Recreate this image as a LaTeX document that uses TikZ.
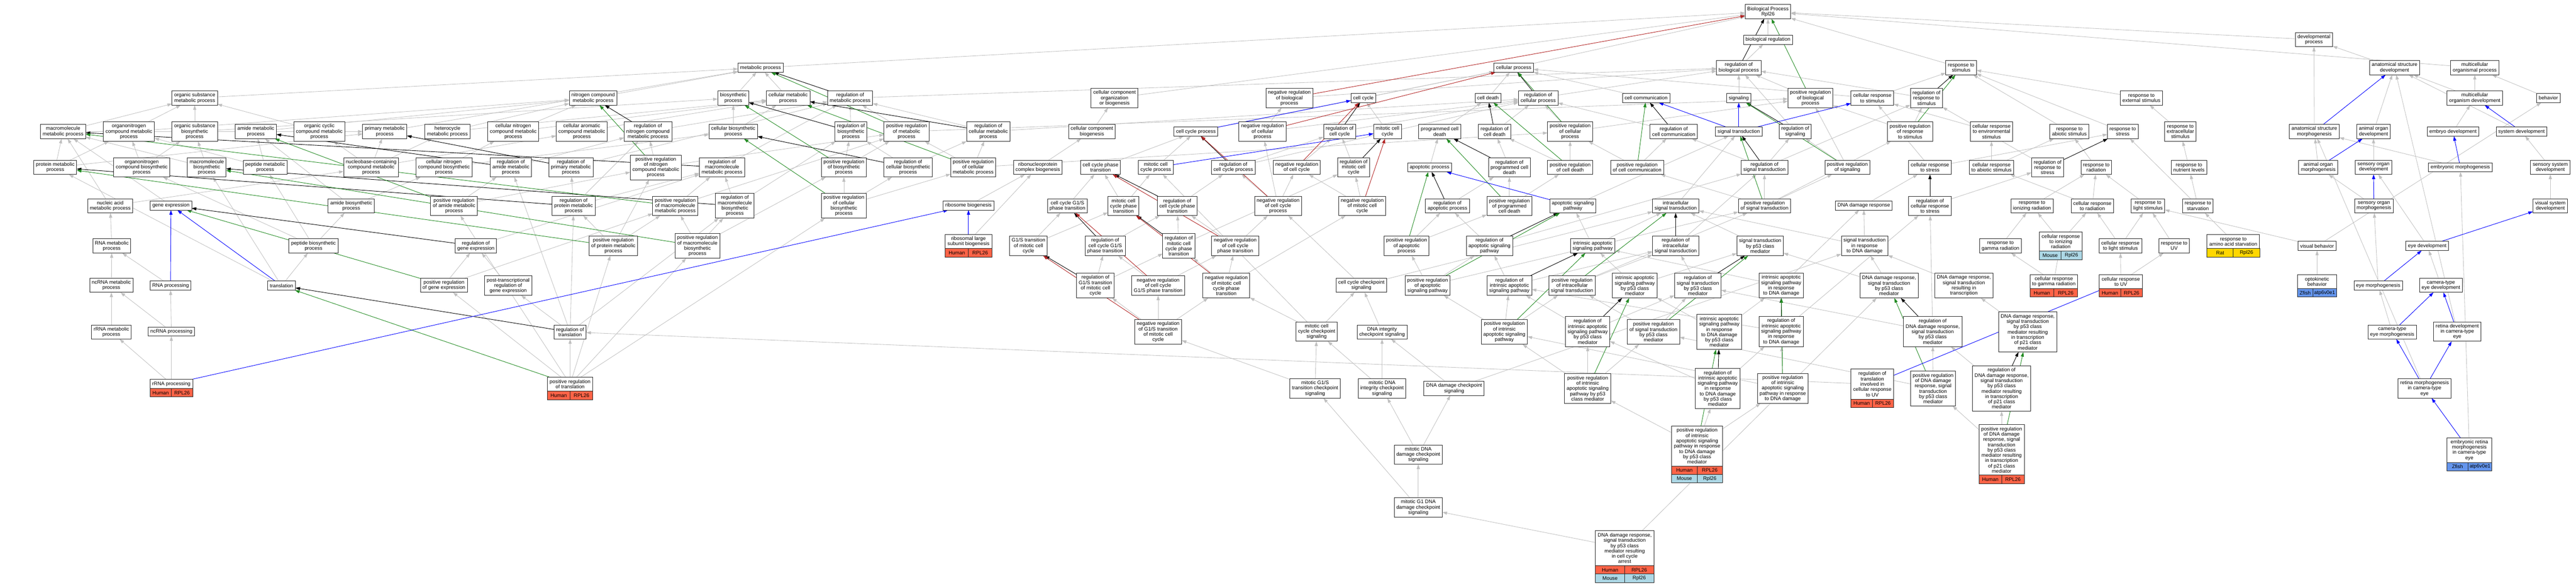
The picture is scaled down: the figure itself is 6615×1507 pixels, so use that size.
\documentclass[tikz,border=0pt]{standalone}
\usepackage{fontspec}
\setmainfont{Liberation Sans}
\usetikzlibrary{arrows.meta}
\pgfdeclarelayer{back}
\pgfdeclarelayer{bg}
\pgfsetlayers{back,bg,main}
\definecolor{edgegray}{RGB}{192,192,192}
\definecolor{egreen}{RGB}{34,139,34}
\definecolor{ered}{RGB}{178,34,34}
\definecolor{eblue}{RGB}{0,0,255}
\definecolor{hum}{RGB}{255,99,71}
\definecolor{mou}{RGB}{173,216,230}
\definecolor{rat}{RGB}{255,215,0}
\definecolor{zf}{RGB}{100,149,237}
\newcommand\gofont{\fontsize{13}{13.6}\selectfont}
\tikzset{
 go/.style={draw=black!85, line width=1.2pt, fill=white, font=\gofont, align=center, inner xsep=5.5pt, inner ysep=0pt, outer sep=0pt},
 L1/.style={minimum height=23.5pt}, L2/.style={minimum height=36.5pt}, L3/.style={minimum height=50pt},
 L4/.style={minimum height=63.5pt}, L5/.style={minimum height=77pt}, L6/.style={minimum height=90pt},
 L7/.style={minimum height=103pt}, L8/.style={minimum height=117pt}, L9/.style={minimum height=130pt},
 gcell/.style={draw=black!85, line width=1.1pt, font=\gofont, inner sep=0pt, outer sep=0pt, minimum height=21.5pt},
 eGray/.style={draw=edgegray, line width=1.1pt, -{Triangle[length=12pt,width=8pt]}},
 eBlack/.style={draw=black, line width=1.2pt, -{Triangle[length=12pt,width=8pt]}},
 eGreen/.style={draw=egreen, line width=1.2pt, -{Triangle[length=12pt,width=8pt]}},
 eRed/.style={draw=ered, line width=1.2pt, -{Triangle[length=12pt,width=8pt]}},
 eBlue/.style={draw=eblue, line width=1.2pt, -{Triangle[length=12pt,width=8pt]}},
}
\newcommand\gannot[6]{%
 \node[gcell,fill=#2,minimum width=#5,anchor=north west] (#1-a) at (#1.south west) {#3};
 \node[gcell,fill=#2,minimum width=#6,anchor=north east] (#1-b) at (#1.south east) {#4};}
\newcommand\gannotb[6]{%
 \node[gcell,fill=#2,minimum width=#5,anchor=north west] (#1-c) at (#1-a.south west) {#3};
 \node[gcell,fill=#2,minimum width=#6,anchor=north east] (#1-d) at (#1-b.south east) {#4};}
\begin{document}
\begin{tikzpicture}[x=1pt,y=1pt]
\begin{pgfonlayer}{back}
\fill[white] (0,0) rectangle (6615,-1507);
\end{pgfonlayer}
\useasboundingbox (0,0) rectangle (6615,-1507);
% ---------- metabolism (left)
\node[go,L2] (orgsubmet) at (500,-252) {organic substance\\metabolic process};
\node[go,L2] (macmet) at (162,-338) {macromolecule\\metabolic process};
\node[go,L3] (orgnitmet) at (331,-338) {organonitrogen\\compound metabolic\\process};
\node[go,L3] (orgsubbio) at (500,-338) {organic substance\\biosynthetic\\process};
\node[go,L2] (amidemet) at (657,-338) {amide metabolic\\process};
\node[go,L3] (orgcyc) at (820,-338) {organic cyclic\\compound metabolic\\process};
\node[go,L2] (primmet) at (988,-338) {primary metabolic\\process};
\node[go,L2] (protmet) at (142,-430) {protein metabolic\\process};
\node[go,L3] (orgnitbio) at (364,-430) {organonitrogen\\compound biosynthetic\\process};
\node[go,L3] (macbio) at (531,-430) {macromolecule\\biosynthetic\\process};
\node[go,L2] (peptmet) at (681,-430) {peptide metabolic\\process};
\node[go,L3] (nucmet) at (953,-430) {nucleobase-containing\\compound metabolic\\process};
\node[go,L3] (cellnitbio) at (1140,-430) {cellular nitrogen\\compound biosynthetic\\process};
\node[go,L2] (nucacid) at (283,-529) {nucleic acid\\metabolic process};
\node[go,L1] (geneexp) at (439,-528) {gene expression};
\node[go,L2] (amidebio) at (902,-529) {amide biosynthetic\\process};
\node[go,L2] (rnamet) at (287,-632) {RNA metabolic\\process};
\node[go,L2] (peptbio) at (805,-632) {peptide biosynthetic\\process};
\node[go,L2] (ncrnamet) at (286,-733) {ncRNA metabolic\\process};
\node[go,L1] (rnaproc) at (438,-734) {RNA processing};
\node[go,L1] (translation) at (723,-734) {translation};
\node[go,L2] (posreggeneexp) at (1140,-733) {positive regulation\\of gene expression};
\node[go,L2] (rrnamet) at (286,-853) {rRNA metabolic\\process};
\node[go,L1] (ncrnaproc) at (440,-852) {ncRNA processing};
\node[go,L1,minimum width=110pt] (rrnaproc) at (440,-986.5) {rRNA processing};
\gannot{rrnaproc}{hum}{Human}{RPL26}{55pt}{55pt}
\node[go,L1] (metproc) at (1953,-174) {metabolic process};
\node[go,L2] (nitmet) at (1523,-252) {nitrogen compound\\metabolic process};
\node[go,L2] (biosyn) at (1883,-252) {biosynthetic\\process};
\node[go,L2] (cellmet) at (2024,-252) {cellular metabolic\\process};
\node[go,L2] (regmet) at (2183,-252) {regulation of\\metabolic process};
\node[go,L2] (heterocycle) at (1149,-338) {heterocycle\\metabolic process};
\node[go,L3] (cellnitmet) at (1318,-338) {cellular nitrogen\\compound metabolic\\process};
\node[go,L3] (cellarom) at (1494,-338) {cellular aromatic\\compound metabolic\\process};
\node[go,L3] (regnitmet) at (1664,-338) {regulation of\\nitrogen compound\\metabolic process};
\node[go,L2] (cellbio) at (1883,-338) {cellular biosynthetic\\process};
\node[go,L3] (regbio) at (2185,-338) {regulation of\\biosynthetic\\process};
\node[go,L3] (regamide) at (1312,-430) {regulation of\\amide metabolic\\process};
\node[go,L3] (regprim) at (1466,-430) {regulation of\\primary metabolic\\process};
\node[go,L4] (posregnit) at (1684,-430) {positive regulation\\of nitrogen\\compound metabolic\\process};
\node[go,L3] (regmacmet) at (1854,-430) {regulation of\\macromolecule\\metabolic process};
\node[go,L3] (posregbio) at (2167,-430) {positive regulation\\of biosynthetic\\process};
\node[go,L3] (posregamide) at (1166,-529) {positive regulation\\of amide metabolic\\process};
\node[go,L3] (regprot) at (1473,-529) {regulation of\\protein metabolic\\process};
\node[go,L3] (posregmacmet) at (1734,-529) {positive regulation\\of macromolecule\\metabolic process};
\node[go,L4] (regmacbio) at (1887,-529) {regulation of\\macromolecule\\biosynthetic\\process};
\node[go,L4] (posregcellbio) at (2167,-529) {positive regulation\\of cellular\\biosynthetic\\process};
\node[go,L2] (reggeneexp) at (1222,-632) {regulation of\\gene expression};
\node[go,L3] (posregprot) at (1575,-632) {positive regulation\\of protein metabolic\\process};
\node[go,L4] (posregmacbio) at (1791,-632) {positive regulation\\of macromolecule\\biosynthetic\\process};
\node[go,L3] (posttrans) at (1305,-734) {post-transcriptional\\regulation of\\gene expression};
\node[go,L2] (regtransl) at (1464,-853) {regulation of\\translation};
\node[go,L2,minimum width=117pt] (posregtransl) at (1464,-987) {positive regulation\\of translation};
\gannot{posregtransl}{hum}{Human}{RPL26}{58.5pt}{58.5pt}
\node[go,L3] (posregmet) at (2328,-338) {positive regulation\\of metabolic\\process};
\node[go,L3] (regcellmet) at (2538,-338) {regulation of\\cellular metabolic\\process};
\node[go,L3] (regcellbio) at (2332,-430) {regulation of\\cellular biosynthetic\\process};
\node[go,L3] (posregcellmet) at (2499,-430) {positive regulation\\of cellular\\metabolic process};
% ---------- cell cycle
\node[go,L3] (ccorg) at (2862,-252) {cellular component\\organization\\or biogenesis};
\node[go,L2] (ccbio) at (2804,-338) {cellular component\\biogenesis};
\node[go,L1] (ccproc) at (3071,-338) {cell cycle process};
\node[go,L3] (negregbio) at (3311,-252) {negative regulation\\of biological\\process};
\node[go,L3] (negregcell) at (3242,-338) {negative regulation\\of cellular\\process};
\node[go,L2] (ribonuc) at (2665,-430) {ribonucleoprotein\\complex biogenesis};
\node[go,L2] (ccphase) at (2826,-430) {cell cycle phase\\transition};
\node[go,L2] (mitccproc) at (2968,-430) {mitotic cell\\cycle process};
\node[go,L2] (regccproc) at (3167,-430) {regulation of\\cell cycle process};
\node[go,L2] (negregcc) at (3330,-430) {negative regulation\\of cell cycle};
\node[go,L1] (ribosomebio) at (2487,-528) {ribosome biogenesis};
\node[go,L2] (ccg1s) at (2741,-529) {cell cycle G1/S\\phase transition};
\node[go,L3] (mitccphase) at (2885,-529) {mitotic cell\\cycle phase\\transition};
\node[go,L3] (regccphase) at (3023,-529) {regulation of\\cell cycle phase\\transition};
\node[go,L3] (negregccproc) at (3282,-529) {negative regulation\\of cell cycle\\process};
\node[go,L2,minimum width=120pt] (ribolarge) at (2487,-620.5) {ribosomal large\\subunit biogenesis};
\gannot{ribolarge}{hum}{Human}{RPL26}{60pt}{60pt}
\node[go,L3] (g1smit) at (2641,-632) {G1/S transition\\of mitotic cell\\cycle};
\node[go,L3] (regccg1s) at (2838,-632) {regulation of\\cell cycle G1/S\\phase transition};
\node[go,L4] (regmitccphase) at (3027,-632) {regulation of\\mitotic cell\\cycle phase\\transition};
\node[go,L3] (negregccphase) at (3172,-632) {negative regulation\\of cell cycle\\phase transition};
\node[go,L4] (regg1smit) at (2813,-734) {regulation of\\G1/S transition\\of mitotic cell\\cycle};
\node[go,L3] (negregccg1s) at (2974,-734) {negative regulation\\of cell cycle\\G1/S phase transition};
\node[go,L4] (negregmitccphase) at (3149,-734) {negative regulation\\of mitotic cell\\cycle phase\\transition};
\node[go,L4] (negregg1smit) at (2974,-853) {negative regulation\\of G1/S transition\\of mitotic cell\\cycle};
% ---------- cellular process / death / signaling
\node[go,L1] (cellproc) at (3887,-174) {cellular process};
\node[go,L1] (cellcycle) at (3501,-252) {cell cycle};
\node[go,L1] (celldeath) at (3821,-252) {cell death};
\node[go,L2] (regcellproc) at (3950,-252) {regulation of\\cellular process};
\node[go,L1] (cellcomm) at (4227,-252) {cell communication};
\node[go,L2] (regcc) at (3440,-338) {regulation of\\cell cycle};
\node[go,L2] (mitcc) at (3563,-338) {mitotic cell\\cycle};
\node[go,L2] (pcd) at (3697,-338) {programmed cell\\death};
\node[go,L2] (regcd) at (3838,-338) {regulation of\\cell death};
\node[go,L3] (posregcellproc) at (4032,-338) {positive regulation\\of cellular\\process};
\node[go,L2] (regcellcomm) at (4298,-338) {regulation of\\cell communication};
\node[go,L3] (regmitcc) at (3476,-430) {regulation of\\mitotic cell\\cycle};
\node[go,L1] (apoptotic) at (3671,-430) {apoptotic process};
\node[go,L3] (regpcd) at (3876,-430) {regulation of\\programmed cell\\death};
\node[go,L2] (posregcd) at (4032,-430) {positive regulation\\of cell death};
\node[go,L2] (posregcellcomm) at (4204,-430) {positive regulation\\of cell communication};
\node[go,L3] (negregmitcc) at (3498,-529) {negative regulation\\of mitotic cell\\cycle};
\node[go,L2] (regapop) at (3717,-529) {regulation of\\apoptotic process};
\node[go,L3] (posregpcd) at (3876,-529) {positive regulation\\of programmed\\cell death};
\node[go,L2] (apopsig) at (4039,-529) {apoptotic signaling\\pathway};
\node[go,L2] (intracell) at (4303,-529) {intracellular\\signal transduction};
\node[go,L3] (posregapop) at (3612,-632) {positive regulation\\of apoptotic\\process};
\node[go,L3] (regapopsig) at (3825,-632) {regulation of\\apoptotic signaling\\pathway};
\node[go,L2] (intrapop) at (4090,-632) {intrinsic apoptotic\\signaling pathway};
\node[go,L3] (regintracell) at (4303,-632) {regulation of\\intracellular\\signal transduction};
\node[go,L2] (ccchk) at (3496,-733) {cell cycle checkpoint\\signaling};
\node[go,L3] (posregapopsig) at (3666,-734) {positive regulation\\of apoptotic\\signaling pathway};
\node[go,L3] (regintrapop) at (3876,-734) {regulation of\\intrinsic apoptotic\\signaling pathway};
\node[go,L3] (posregintracell) at (4037,-734) {positive regulation\\of intracellular\\signal transduction};
\node[go,L4] (intrapopp53) at (4198,-734) {intrinsic apoptotic\\signaling pathway\\by p53 class\\mediator};
\node[go,L4] (regsigp53) at (4360,-734) {regulation of\\signal transduction\\by p53 class\\mediator};
\node[go,L3] (mitccchk) at (3381,-852) {mitotic cell\\cycle checkpoint\\signaling};
\node[go,L2] (dnaintchk) at (3549,-853) {DNA integrity\\checkpoint signaling};
\node[go,L4] (posregintrapop) at (3863,-853) {positive regulation\\of intrinsic\\apoptotic signaling\\pathway};
\node[go,L5] (regintrapopp53) at (4077,-852) {regulation of\\intrinsic apoptotic\\signaling pathway\\by p53 class\\mediator};
\node[go,L4] (posregsigp53) at (4246,-853) {positive regulation\\of signal transduction\\by p53 class\\mediator};
\node[go,L6] (intrapopdnap53) at (4415,-853) {intrinsic apoptotic\\signaling pathway\\in response\\to DNA damage\\by p53 class\\mediator};
\node[go,L3] (mitg1schk) at (3377,-998) {mitotic G1/S\\transition checkpoint\\signaling};
\node[go,L3] (mitdnaintchk) at (3549,-998) {mitotic DNA\\integrity checkpoint\\signaling};
\node[go,L2] (dnadamchk) at (3734,-998) {DNA damage checkpoint\\signaling};
\node[go,L5] (posregintrapopp53) at (4077,-998) {positive regulation\\of intrinsic\\apoptotic signaling\\pathway by p53\\class mediator};
\node[go,L7] (regintrapopdnap53) at (4411,-998) {regulation of\\intrinsic apoptotic\\signaling pathway\\in response\\to DNA damage\\by p53 class\\mediator};
\node[go,L3] (mitdnadamchk) at (3642,-1168) {mitotic DNA\\damage checkpoint\\signaling};
\node[go,L7,minimum width=130pt] (posregintrapopdnap53) at (4358,-1146) {positive regulation\\of intrinsic\\apoptotic signaling\\pathway in response\\to DNA damage\\by p53 class\\mediator};
\gannot{posregintrapopdnap53}{hum}{Human}{RPL26}{65pt}{65pt}
\gannotb{posregintrapopdnap53}{mou}{Mouse}{Rpl26}{65pt}{65pt}
\node[go,L3] (mitg1dna) at (3642,-1304) {mitotic G1 DNA\\damage checkpoint\\signaling};
\node[go,L6,minimum width=150pt] (dnap53arrest) at (4172,-1408.5) {DNA damage response,\\signal transduction\\by p53 class\\mediator resulting\\in cell cycle\\arrest};
\gannot{dnap53arrest}{hum}{Human}{RPL26}{75pt}{75pt}
\gannotb{dnap53arrest}{mou}{Mouse}{Rpl26}{75pt}{75pt}
% ---------- top right: regulation / response
\node[go,L2] (bp) at (4540,-30) {Biological Process\\Rpl26};
\node[go,L1] (bioreg) at (4540,-102) {biological regulation};
\node[go,L2] (regbp) at (4465,-174) {regulation of\\biological process};
\node[go,L2] (respstim) at (5036,-174) {response to\\stimulus};
\node[go,L1] (signaling) at (4465,-252) {signaling};
\node[go,L3] (posregbp) at (4649,-252) {positive regulation\\of biological\\process};
\node[go,L2] (cellrespstim) at (4808,-252) {cellular response\\to stimulus};
\node[go,L3] (regrespstim) at (4947,-252) {regulation of\\response to\\stimulus};
\node[go,L2] (respext) at (5499,-252) {response to\\external stimulus};
\node[go,L1] (sigtrans) at (4465,-338) {signal transduction};
\node[go,L2] (regsig) at (4610,-338) {regulation of\\signaling};
\node[go,L3] (posregresp) at (4905,-338) {positive regulation\\of response\\to stimulus};
\node[go,L3] (cellrespenv) at (5114,-338) {cellular response\\to environmental\\stimulus};
\node[go,L2] (respabiotic) at (5314,-338) {response to\\abiotic stimulus};
\node[go,L2] (respstress) at (5451,-338) {response to\\stress};
\node[go,L2] (regsigtrans) at (4531,-430) {regulation of\\signal transduction};
\node[go,L2] (posregsig) at (4744,-430) {positive regulation\\of signaling};
\node[go,L2] (cellrespstress) at (4956,-430) {cellular response\\to stress};
\node[go,L2] (cellrespabio) at (5114,-430) {cellular response\\to abiotic stimulus};
\node[go,L3] (regrespstress) at (5258,-430) {regulation of\\response to\\stress};
\node[go,L2] (respradiation) at (5383,-430) {response to\\radiation};
\node[go,L2] (posregsigtrans) at (4531,-529) {positive regulation\\of signal transduction};
\node[go,L1] (dnadamresp) at (4786,-528) {DNA damage response};
\node[go,L3] (regcellrespstress) at (4956,-529) {regulation of\\cellular response\\to stress};
\node[go,L2] (respionizing) at (5218,-529) {response to\\ionizing radiation};
\node[go,L2] (cellresprad) at (5373,-529) {cellular response\\to radiation};
\node[go,L2] (resplight) at (5516,-529) {response to\\light stimulus};
\node[go,L3] (sigp53) at (4520,-632) {signal transduction\\by p53 class\\mediator};
\node[go,L3] (sigdna) at (4788,-632) {signal transduction\\in response\\to DNA damage};
\node[go,L2] (respgamma) at (5137,-632) {response to\\gamma radiation};
\node[go,L3,minimum width=109pt] (cellrespionizing) at (5292,-620.5) {cellular response\\to ionizing\\radiation};
\gannot{cellrespionizing}{mou}{Mouse}{Rpl26}{54.5pt}{54.5pt}
\node[go,L2] (cellresplight) at (5445,-632) {cellular response\\to light stimulus};
\node[go,L4] (intrapopdna) at (4574,-734) {intrinsic apoptotic\\signaling pathway\\in response\\to DNA damage};
\node[go,L4] (dnap53) at (4851,-734) {DNA damage response,\\signal transduction\\by p53 class\\mediator};
\node[go,L4] (dnatrans) at (5043,-734) {DNA damage response,\\signal transduction\\resulting in\\transcription};
\node[go,L2,minimum width=122pt] (cellrespgamma) at (5274,-723.5) {cellular response\\to gamma radiation};
\gannot{cellrespgamma}{hum}{Human}{RPL26}{61pt}{61pt}
\node[go,L2,minimum width=111pt] (cellrespuv) at (5446,-723.5) {cellular response\\to UV};
\gannot{cellrespuv}{hum}{Human}{RPL26}{55.5pt}{55.5pt}
\node[go,L5] (regintrapopdna) at (4574,-852) {regulation of\\intrinsic apoptotic\\signaling pathway\\in response\\to DNA damage};
\node[go,L5] (regdnap53) at (4963,-852) {regulation of\\DNA damage response,\\signal transduction\\by p53 class\\mediator};
\node[go,L7] (dnap21) at (5207,-853) {DNA damage response,\\signal transduction\\by p53 class\\mediator resulting\\in transcription\\of p21 class\\mediator};
\node[go,L5] (posregintrapopdna) at (4578,-998) {positive regulation\\of intrinsic\\apoptotic signaling\\pathway in response\\to DNA damage};
\node[go,L5,minimum width=109pt] (regtranslUV) at (4808,-987) {regulation of\\translation\\involved in\\cellular response\\to UV};
\gannot{regtranslUV}{hum}{Human}{RPL26}{54.5pt}{54.5pt}
\node[go,L6] (posregdnap53) at (4964,-998) {positive regulation\\of DNA damage\\response, signal\\transduction\\by p53 class\\mediator};
\node[go,L8] (regdnap21) at (5140,-998) {regulation of\\DNA damage response,\\signal transduction\\by p53 class\\mediator resulting\\in transcription\\of p21 class\\mediator};
\node[go,L9,minimum width=116pt] (posregdnap21) at (5140,-1156) {positive regulation\\of DNA damage\\response, signal\\transduction\\by p53 class\\mediator resulting\\in transcription\\of p21 class\\mediator};
\gannot{posregdnap21}{hum}{Human}{RPL26}{58pt}{58pt}
% ---------- development (right)
\node[go,L2] (devproc) at (5942,-102) {developmental\\process};
\node[go,L2] (anatdev) at (6149,-174) {anatomical structure\\development};
\node[go,L2] (multiproc) at (6355,-174) {multicellular\\organismal process};
\node[go,L3] (respextra) at (5599,-338) {response to\\extracellular\\stimulus};
\node[go,L2] (multidev) at (6355,-252) {multicellular\\organism development};
\node[go,L1] (behavior) at (6544,-252) {behavior};
\node[go,L2] (anatmorph) at (5943,-338) {anatomical structure\\morphogenesis};
\node[go,L2] (animorgdev) at (6095,-338) {animal organ\\development};
\node[go,L1] (embryodev) at (6299,-338) {embryo development};
\node[go,L1] (sysdev) at (6475,-338) {system development};
\node[go,L2] (respnutrient) at (5621,-430) {response to\\nutrient levels};
\node[go,L2] (animorgmorph) at (5953,-430) {animal organ\\morphogenesis};
\node[go,L2] (sensorgdev) at (6095,-430) {sensory organ\\development};
\node[go,L1] (embmorph) at (6318,-430) {embryonic morphogenesis};
\node[go,L2] (senssysdev) at (6549,-430) {sensory system\\development};
\node[go,L2] (respstarv) at (5644,-529) {response to\\starvation};
\node[go,L2] (sensorgmorph) at (6096,-529) {sensory organ\\morphogenesis};
\node[go,L2] (vissysdev) at (6549,-529) {visual system\\development};
\node[go,L2] (respuv) at (5583,-632) {response to\\UV};
\node[go,L2,minimum width=135pt] (respaa) at (5735,-620.5) {response to\\amino acid starvation};
\gannot{respaa}{rat}{Rat}{Rpl26}{67.5pt}{67.5pt}
\node[go,L1] (visbeh) at (5950,-632) {visual behavior};
\node[go,L1] (eyedev) at (6233,-632) {eye development};
\node[go,L2,minimum width=100pt] (optokinetic) at (5950,-723.5) {optokinetic\\behavior};
\gannot{optokinetic}{zf}{Zfish}{atp6v0e1}{39pt}{61pt}
\node[go,L1] (eyemorph) at (6107,-734) {eye morphogenesis};
\node[go,L2] (cameradev) at (6268,-733) {camera-type\\eye development};
\node[go,L2] (cameramorph) at (6143,-853) {camera-type\\eye morphogenesis};
\node[go,L3] (retinadev) at (6310,-852) {retina development\\in camera-type\\eye};
\node[go,L3] (retinamorph) at (6226,-998) {retina morphogenesis\\in camera-type\\eye};
\node[go,L4,minimum width=116pt] (embretina) at (6341,-1156.5) {embryonic retina\\morphogenesis\\in camera-type\\eye};
\gannot{embretina}{zf}{Zfish}{atp6v0e1}{55pt}{61pt}
% ---------- edges
\begin{pgfonlayer}{bg}
\foreach \a/\b in {macmet/orgsubmet, orgnitmet/orgsubmet, orgsubbio/orgsubmet, orgcyc/orgsubmet, orgsubmet/metproc, primmet/metproc, nitmet/metproc, biosyn/metproc, cellmet/metproc,
 macmet/primmet, protmet/macmet, protmet/orgnitmet, protmet/primmet, nucacid/macmet, geneexp/macmet, macbio/macmet, macbio/orgsubbio, orgsubbio/biosyn, orgnitmet/nitmet, orgnitbio/orgnitmet, orgnitbio/orgsubbio, amidemet/nitmet, peptmet/amidemet, peptmet/orgnitmet, nucmet/orgcyc, nucmet/primmet, nucmet/heterocycle, nucmet/cellarom, heterocycle/nitmet, heterocycle/cellmet, cellnitmet/nitmet, cellnitmet/cellmet, cellarom/cellmet, cellnitbio/cellnitmet, cellnitbio/cellbio, cellbio/biosyn, cellbio/cellmet, amidebio/amidemet, amidebio/cellnitbio, nucacid/nucmet, rnamet/nucacid, ncrnamet/rnamet, rnaproc/rnamet, rrnamet/ncrnamet, ncrnaproc/ncrnamet, ncrnaproc/rnaproc, rrnaproc/rrnamet, rrnaproc/ncrnaproc, peptbio/peptmet, peptbio/amidebio, peptbio/orgnitbio, translation/peptbio, translation/macbio, translation/protmet,
 regnitmet/regmet, regmacmet/regmet, regprim/regmet, regbio/regmet, regcellmet/regmet, posregmet/regmet, regamide/regnitmet, regprot/regnitmet, regprot/regprim, regprot/regmacmet, posregnit/regnitmet, posregnit/posregmet, regmacbio/regmacmet, regmacbio/regbio, posregmacmet/regmacmet, posregmacmet/posregmet, posregmacbio/posregmacmet, posregmacbio/regmacbio, posregmacbio/posregbio, posregamide/regamide, posregamide/posregnit, posregprot/regprot, posregprot/posregmacmet, posregprot/posregnit, reggeneexp/regmacmet, posreggeneexp/reggeneexp, posreggeneexp/posregmacmet, posttrans/reggeneexp, regtransl/regprot, regtransl/regamide, regtransl/regmacbio, regtransl/posttrans, posregtransl/regtransl, posregtransl/posreggeneexp, posregtransl/posregprot, posregtransl/posregmacbio, posregtransl/posregamide, posregtransl/posregcellbio, regtranslUV/regtransl, posregbio/regbio, posregbio/posregmet, posregcellbio/posregbio, posregcellbio/regcellbio, posregcellbio/posregcellmet, regcellbio/regbio, regcellbio/regcellmet, posregcellmet/posregmet, posregcellmet/regcellmet, posregcellmet/posregcellproc, regcellmet/regcellproc, regmet/regbp, posregmet/posregbp, metproc/bp,
 ribolarge/ribonuc, ribosomebio/ribonuc, ribonuc/ccbio, ccbio/ccorg, ccorg/bp,
 ccproc/cellproc, ccphase/ccproc, mitccproc/ccproc, mitccphase/ccphase, mitccphase/mitccproc, ccg1s/ccphase, g1smit/ccg1s, g1smit/mitccphase, regccproc/regcc, regccproc/regcellproc, regccphase/regccproc, regmitccphase/regccphase, regmitccphase/regmitcc, regccg1s/regccphase, regg1smit/regccg1s, regg1smit/regmitccphase, negregccphase/regccphase, negregccphase/negregccproc, negregccg1s/regccg1s, negregccg1s/negregccphase, negregmitccphase/regmitccphase, negregmitccphase/negregccphase, negregmitccphase/negregmitcc, negregg1smit/regg1smit, negregg1smit/negregccg1s, negregg1smit/negregmitccphase, negregccproc/regccproc, negregccproc/negregcc, negregccproc/negregcell, negregcc/regcc, negregcell/negregbio, negregcell/regcellproc, negregbio/regbp, regcc/regcellproc, regmitcc/regcc, negregmitcc/regmitcc, negregmitcc/negregcc, mitcc/cellcycle, cellcycle/cellproc, ccchk/negregccproc, ccchk/intracell, mitccchk/ccchk, mitccchk/negregmitccphase, mitccchk/mitccproc, dnaintchk/ccchk, mitg1schk/mitccchk, mitg1schk/negregg1smit, mitdnaintchk/mitccchk, mitdnaintchk/dnaintchk, dnadamchk/dnaintchk, dnadamchk/sigdna, mitdnadamchk/mitdnaintchk, mitdnadamchk/dnadamchk, mitg1dna/mitdnadamchk, mitg1dna/mitg1schk, dnap53arrest/mitg1dna, dnap53arrest/dnap53,
 celldeath/cellproc, pcd/celldeath, apoptotic/pcd, regcd/regcellproc, regpcd/regcd, regapop/regpcd, posregcd/regcd, posregcd/posregcellproc, posregpcd/regpcd, posregpcd/posregcd, posregapop/regapop, posregapop/posregpcd, apopsig/sigtrans, regapopsig/regapop, regapopsig/regsigtrans, posregapopsig/regapopsig, posregapopsig/posregapop, posregapopsig/posregsigtrans, intrapop/apopsig, intrapop/intracell, regintrapop/regapopsig, regintrapop/regintracell, posregintrapop/regintrapop, posregintrapop/posregapopsig, posregintrapop/posregintracell, intrapopp53/intrapop, intrapopp53/sigp53, regintrapopp53/regintrapop, regintrapopp53/regsigp53, posregintrapopp53/regintrapopp53, posregintrapopp53/posregintrapop, posregintrapopp53/posregsigp53, intrapopdnap53/intrapopp53, intrapopdnap53/intrapopdna, regintrapopdnap53/regintrapopp53, regintrapopdnap53/regintrapopdna, posregintrapopdnap53/regintrapopdnap53, posregintrapopdnap53/posregintrapopp53, posregintrapopdnap53/posregintrapopdna, regsigp53/regintracell, posregsigp53/regsigp53, posregsigp53/posregintracell, regintracell/regsigtrans, posregintracell/regintracell, posregintracell/posregsigtrans, intracell/sigtrans, cellcomm/cellproc, regcellcomm/regcellproc, posregcellcomm/regcellcomm, posregcellcomm/posregcellproc, regcellproc/regbp, posregcellproc/regcellproc, posregcellproc/posregbp, cellproc/bp,
 bioreg/bp, regbp/bioreg, respstim/bp, signaling/regbp, posregbp/regbp, cellrespstim/respstim, cellrespstim/cellproc, regrespstim/regbp, posregresp/regrespstim, posregresp/posregbp, regsig/regbp, posregsig/regsig, posregsig/posregbp, regsigtrans/regsig, regsigtrans/regrespstim, regsigtrans/regcellcomm, posregsigtrans/regsigtrans, posregsigtrans/posregsig, posregsigtrans/posregresp, posregsigtrans/posregcellcomm, cellrespenv/cellrespstim, respabiotic/respstim, respstress/respstim, respext/respstim, cellrespstress/cellrespstim, cellrespstress/respstress, cellrespabio/cellrespenv, cellrespabio/respabiotic, regrespstress/regrespstim, respradiation/respabiotic, dnadamresp/cellrespstress, regcellrespstress/regrespstress, respionizing/respradiation, cellresprad/respradiation, cellresprad/cellrespabio, resplight/respradiation, sigp53/intracell, sigdna/dnadamresp, sigdna/intracell, respgamma/respionizing, cellrespionizing/respionizing, cellrespionizing/cellresprad, cellresplight/resplight, cellresplight/cellresprad, intrapopdna/intrapop, intrapopdna/dnadamresp, dnap53/sigp53, dnap53/sigdna, dnatrans/sigdna, cellrespgamma/respgamma, cellrespgamma/cellrespionizing, cellrespuv/cellresplight, cellrespuv/respuv, regintrapopdna/regintrapop, regintrapopdna/regcellrespstress, regdnap53/regsigp53, regdnap53/regcellrespstress, dnap21/dnatrans, posregintrapopdna/regintrapopdna, posregintrapopdna/posregintrapop, posregdnap53/regdnap53, posregdnap53/posregsigp53, regdnap21/regdnap53, posregdnap21/regdnap21, posregdnap21/posregdnap53,
 devproc/bp, anatdev/devproc, multiproc/bp, anatmorph/devproc, multidev/multiproc, multidev/anatdev, behavior/multiproc, respextra/respext, respnutrient/respextra, respstarv/respnutrient, respstarv/respstress, respuv/resplight, respaa/respstarv, animorgdev/anatdev, animorgmorph/anatmorph, sensorgdev/animorgdev, sensorgmorph/animorgmorph, embryodev/multidev, embmorph/anatmorph, sysdev/anatdev, senssysdev/sysdev, vissysdev/senssysdev, visbeh/behavior, visbeh/resplight, optokinetic/visbeh, eyedev/sensorgdev, eyemorph/sensorgmorph, cameradev/eyedev, cameramorph/eyemorph, retinadev/anatdev, retinamorph/anatmorph, embretina/embmorph}
 \draw[eGray] (\a) -- (\b);
\foreach \a/\b in {regccproc/ccproc, regmitcc/mitcc, regcc/cellcycle, regpcd/pcd, regcd/celldeath, regcellproc/cellproc, regcellcomm/cellcomm, regapop/apoptotic, regapopsig/apopsig, regintrapop/intrapop, regintracell/intracell, regintrapopp53/intrapopp53, regbp/bp, regsig/signaling, regsigtrans/sigtrans, regrespstim/respstim, regrespstress/respstress, regcellrespstress/cellrespstress, regsigp53/sigp53, regdnap53/dnap53, regdnap21/dnap21, regintrapopdna/intrapopdna, regintrapopdnap53/intrapopdnap53, regccg1s/ccg1s, regg1smit/g1smit, regmitccphase/mitccphase, regccphase/ccphase, regmet/metproc, regnitmet/nitmet, regbio/biosyn, regcellbio/cellbio, regcellmet/cellmet, regmacmet/macmet, regmacbio/macbio, regprot/protmet, regamide/amidemet, regprim/primmet, reggeneexp/geneexp, regtransl/translation}
 \draw[eBlack] (\a) -- (\b);
\foreach \a/\b in {posregmet/metproc, posregnit/nitmet, posregbio/biosyn, posregcellbio/cellbio, posregcellmet/cellmet, posregmacmet/macmet, posregmacbio/macbio, posregprot/protmet, posregamide/amidemet, posreggeneexp/geneexp, posregtransl/translation, posregcellproc/cellproc, posregcd/celldeath, posregpcd/pcd, posregcellcomm/cellcomm, posregapop/apoptotic, posregapopsig/apopsig, posregintrapop/intrapop, posregintracell/intracell, posregintrapopp53/intrapopp53, posregintrapopdnap53/intrapopdnap53, posregsigp53/sigp53, posregbp/bp, posregsig/signaling, posregsigtrans/sigtrans, posregresp/respstim, posregdnap53/dnap53, posregdnap21/dnap21, posregintrapopdna/intrapopdna}
 \draw[eGreen] (\a) -- (\b);
\foreach \a/\b in {negregbio/bp, negregcell/cellproc, negregcc/cellcycle, negregmitcc/mitcc, negregccproc/ccproc, negregccphase/ccphase, negregccg1s/ccg1s, negregmitccphase/mitccphase, negregg1smit/g1smit}
 \draw[eRed] (\a) -- (\b);
\foreach \a/\b in {rrnaproc/ribosomebio, ribolarge/ribosomebio, rnaproc/geneexp, translation/geneexp, ccproc/cellcycle, mitccproc/mitcc, apopsig/apoptotic, sigtrans/signaling, sigtrans/cellrespstim, sigtrans/cellcomm, regtranslUV/cellrespuv, anatmorph/anatdev, animorgmorph/animorgdev, sysdev/multidev, embmorph/embryodev, sensorgmorph/sensorgdev, eyedev/vissysdev, eyemorph/eyedev, cameramorph/cameradev, retinadev/cameradev, retinamorph/cameramorph, retinamorph/retinadev, embretina/retinamorph}
 \draw[eBlue] (\a) -- (\b);
\end{pgfonlayer}
\end{tikzpicture}
\end{document}
